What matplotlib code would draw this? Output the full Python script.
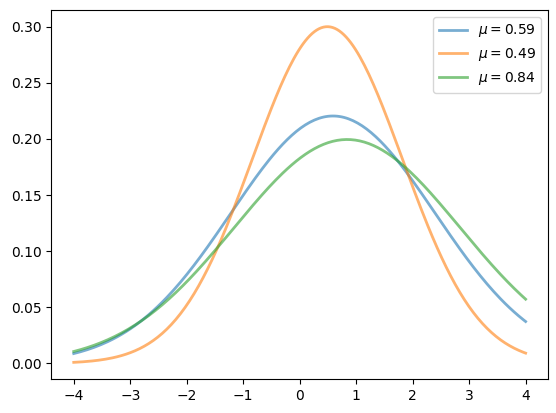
import numpy as np
import matplotlib
matplotlib.use('Agg')
from matplotlib import pyplot as plt

# Parameters of the three normal curves
mus = [0.59, 0.49, 0.84]
sigmas = [1.81, 1.33, 2.0]
colors = ['C0', 'C1', 'C2']

x = np.linspace(-4, 4, 200)

fig = plt.figure(figsize=(5.56, 4.13), dpi=100)
ax = fig.add_axes([0.092, 0.082, 0.894, 0.894])

for mu, sigma, c in zip(mus, sigmas, colors):
    y = np.exp(-0.5 * ((x - mu) / sigma) ** 2) / (sigma * np.sqrt(2 * np.pi))
    ax.plot(x, y, color=c, lw=2, alpha=0.6, label=r'$\mu = %.2f$' % mu)

ax.legend(loc='upper right')

fig.savefig('out.png', dpi=100)
